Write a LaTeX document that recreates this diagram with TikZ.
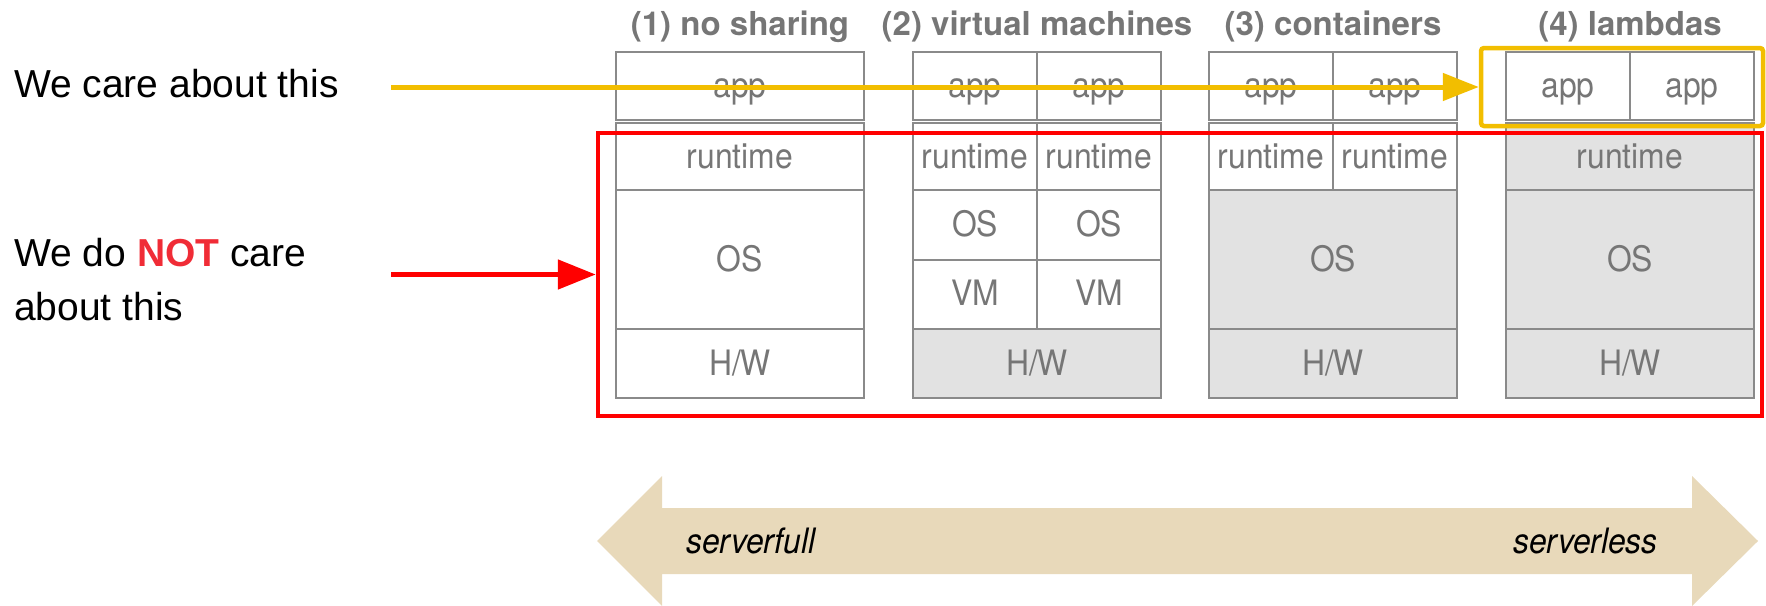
\documentclass[tikz,border=0pt]{standalone}
\usepackage{fontspec}
\setmainfont{Liberation Sans}
\newfontfamily\helv{TeX Gyre Heros}
\newfontfamily\helvn[FakeStretch=0.91]{TeX Gyre Heros}
\usetikzlibrary{arrows.meta}
\definecolor{cellline}{RGB}{138,138,138}
\definecolor{celltext}{RGB}{118,118,118}
\definecolor{cellfill}{RGB}{226,226,226}
\definecolor{ylw}{RGB}{242,190,0}
\definecolor{rd}{RGB}{255,0,0}
\definecolor{notred}{RGB}{240,44,54}
\definecolor{beige}{RGB}{232,217,186}
\tikzset{
  cellbox/.style={draw=cellline, line width=2pt, fill=white, inner sep=0pt, outer sep=0pt,
    text=celltext, font={\helvn\fontsize{35}{35}\selectfont}, text height=23pt, text depth=0pt},
  gray cell/.style={fill=cellfill},
  full/.style={minimum width=248pt},
  half/.style={minimum width=124pt},
  rowapp/.style={minimum height=68pt},
  rowrt/.style={minimum height=67pt},
  rowos/.style={minimum height=139pt},
  rowhalf/.style={minimum height=69.5pt},
  rowhw/.style={minimum height=69pt},
  title/.style={anchor=base, text=celltext, font={\helv\bfseries\fontsize{33}{33}\selectfont}, inner sep=0pt},
  lefttext/.style={anchor=base west, inner sep=0pt, font={\fontsize{39}{39}\selectfont}},
  endtext/.style={inner sep=0pt, font={\helvn\itshape\fontsize{35}{35}\selectfont}},
  pointer/.style={line width=5pt},
}
\begin{document}
\begin{tikzpicture}[x=1pt,y=-1pt]
\useasboundingbox (0,0) rectangle (1766,605);
% titles
\node[title] (t1) at (740,35) {(1) no sharing};
\node[title] (t2) at (1037,35) {(2) virtual machines};
\node[title] (t3) at (1333,35) {(3) containers};
\node[title] (t4) at (1630,35) {(4) lambdas};
% column 1
\node[cellbox,full,rowapp] (c1app) at (740,86) {app};
\node[cellbox,full,rowrt] (c1rt) at (740,156.5) {runtime};
\node[cellbox,full,rowos] (c1os) at (740,259.5) {OS};
\node[cellbox,full,rowhw] (c1hw) at (740,363.5) {H/W};
% column 2
\node[cellbox,half,rowapp] (c2appa) at (975,86) {app};
\node[cellbox,half,rowapp] (c2appb) at (1099,86) {app};
\node[cellbox,half,rowrt] (c2rta) at (975,156.5) {runtime};
\node[cellbox,half,rowrt] (c2rtb) at (1099,156.5) {runtime};
\node[cellbox,half,rowhalf] (c2osa) at (975,224.75) {OS};
\node[cellbox,half,rowhalf] (c2osb) at (1099,224.75) {OS};
\node[cellbox,half,rowhalf] (c2vma) at (975,294.25) {VM};
\node[cellbox,half,rowhalf] (c2vmb) at (1099,294.25) {VM};
\node[cellbox,gray cell,full,rowhw] (c2hw) at (1037,363.5) {H/W};
% column 3
\node[cellbox,half,rowapp] (c3appa) at (1271,86) {app};
\node[cellbox,half,rowapp] (c3appb) at (1395,86) {app};
\node[cellbox,half,rowrt] (c3rta) at (1271,156.5) {runtime};
\node[cellbox,half,rowrt] (c3rtb) at (1395,156.5) {runtime};
\node[cellbox,gray cell,full,rowos] (c3os) at (1333,259.5) {OS};
\node[cellbox,gray cell,full,rowhw] (c3hw) at (1333,363.5) {H/W};
% column 4
\node[cellbox,half,rowapp] (c4appa) at (1568,86) {app};
\node[cellbox,half,rowapp] (c4appb) at (1692,86) {app};
\node[cellbox,gray cell,full,rowrt] (c4rt) at (1630,156.5) {runtime};
\node[cellbox,gray cell,full,rowos] (c4os) at (1630,259.5) {OS};
\node[cellbox,gray cell,full,rowhw] (c4hw) at (1630,363.5) {H/W};
% highlight frames
\node[draw=rd, line width=4.5pt, minimum width=1164pt, minimum height=283pt, inner sep=0pt] (rbox) at (1180,274.5) {};
\node[draw=ylw, line width=4.5pt, rounded corners=3pt, minimum width=282pt, minimum height=78pt, inner sep=0pt] (ybox) at (1622,87) {};
% left texts
\node[lefttext] (care) at (14,97) {We care about this};
\node[lefttext] (notcare) at (14,266) {We do \textcolor{notred}{\bfseries NOT} care};
\node[lefttext] (notcare2) at (14,320) {about this};
% pointers
\coordinate (ystart) at (391,87);
\coordinate (rstart) at (391,274.5);
\draw[pointer, draw=ylw, -{Triangle[length=36pt,width=27pt]}] (ystart) -- (ybox.west);
\draw[pointer, draw=rd, -{Triangle[length=38pt,width=29pt]}] (rstart) -- (rbox.west);
% spectrum arrow
\fill[beige] (597,541) -- (662,476) -- (662,508) -- (1692,508) -- (1692,476) -- (1758,541)
  -- (1692,606) -- (1692,574) -- (662,574) -- (662,606) -- cycle;
\node[endtext, anchor=base west] (sfull) at (686,553) {serverfull};
\node[endtext, anchor=base east] (sless) at (1658,553) {serverless};
\end{tikzpicture}
\end{document}
